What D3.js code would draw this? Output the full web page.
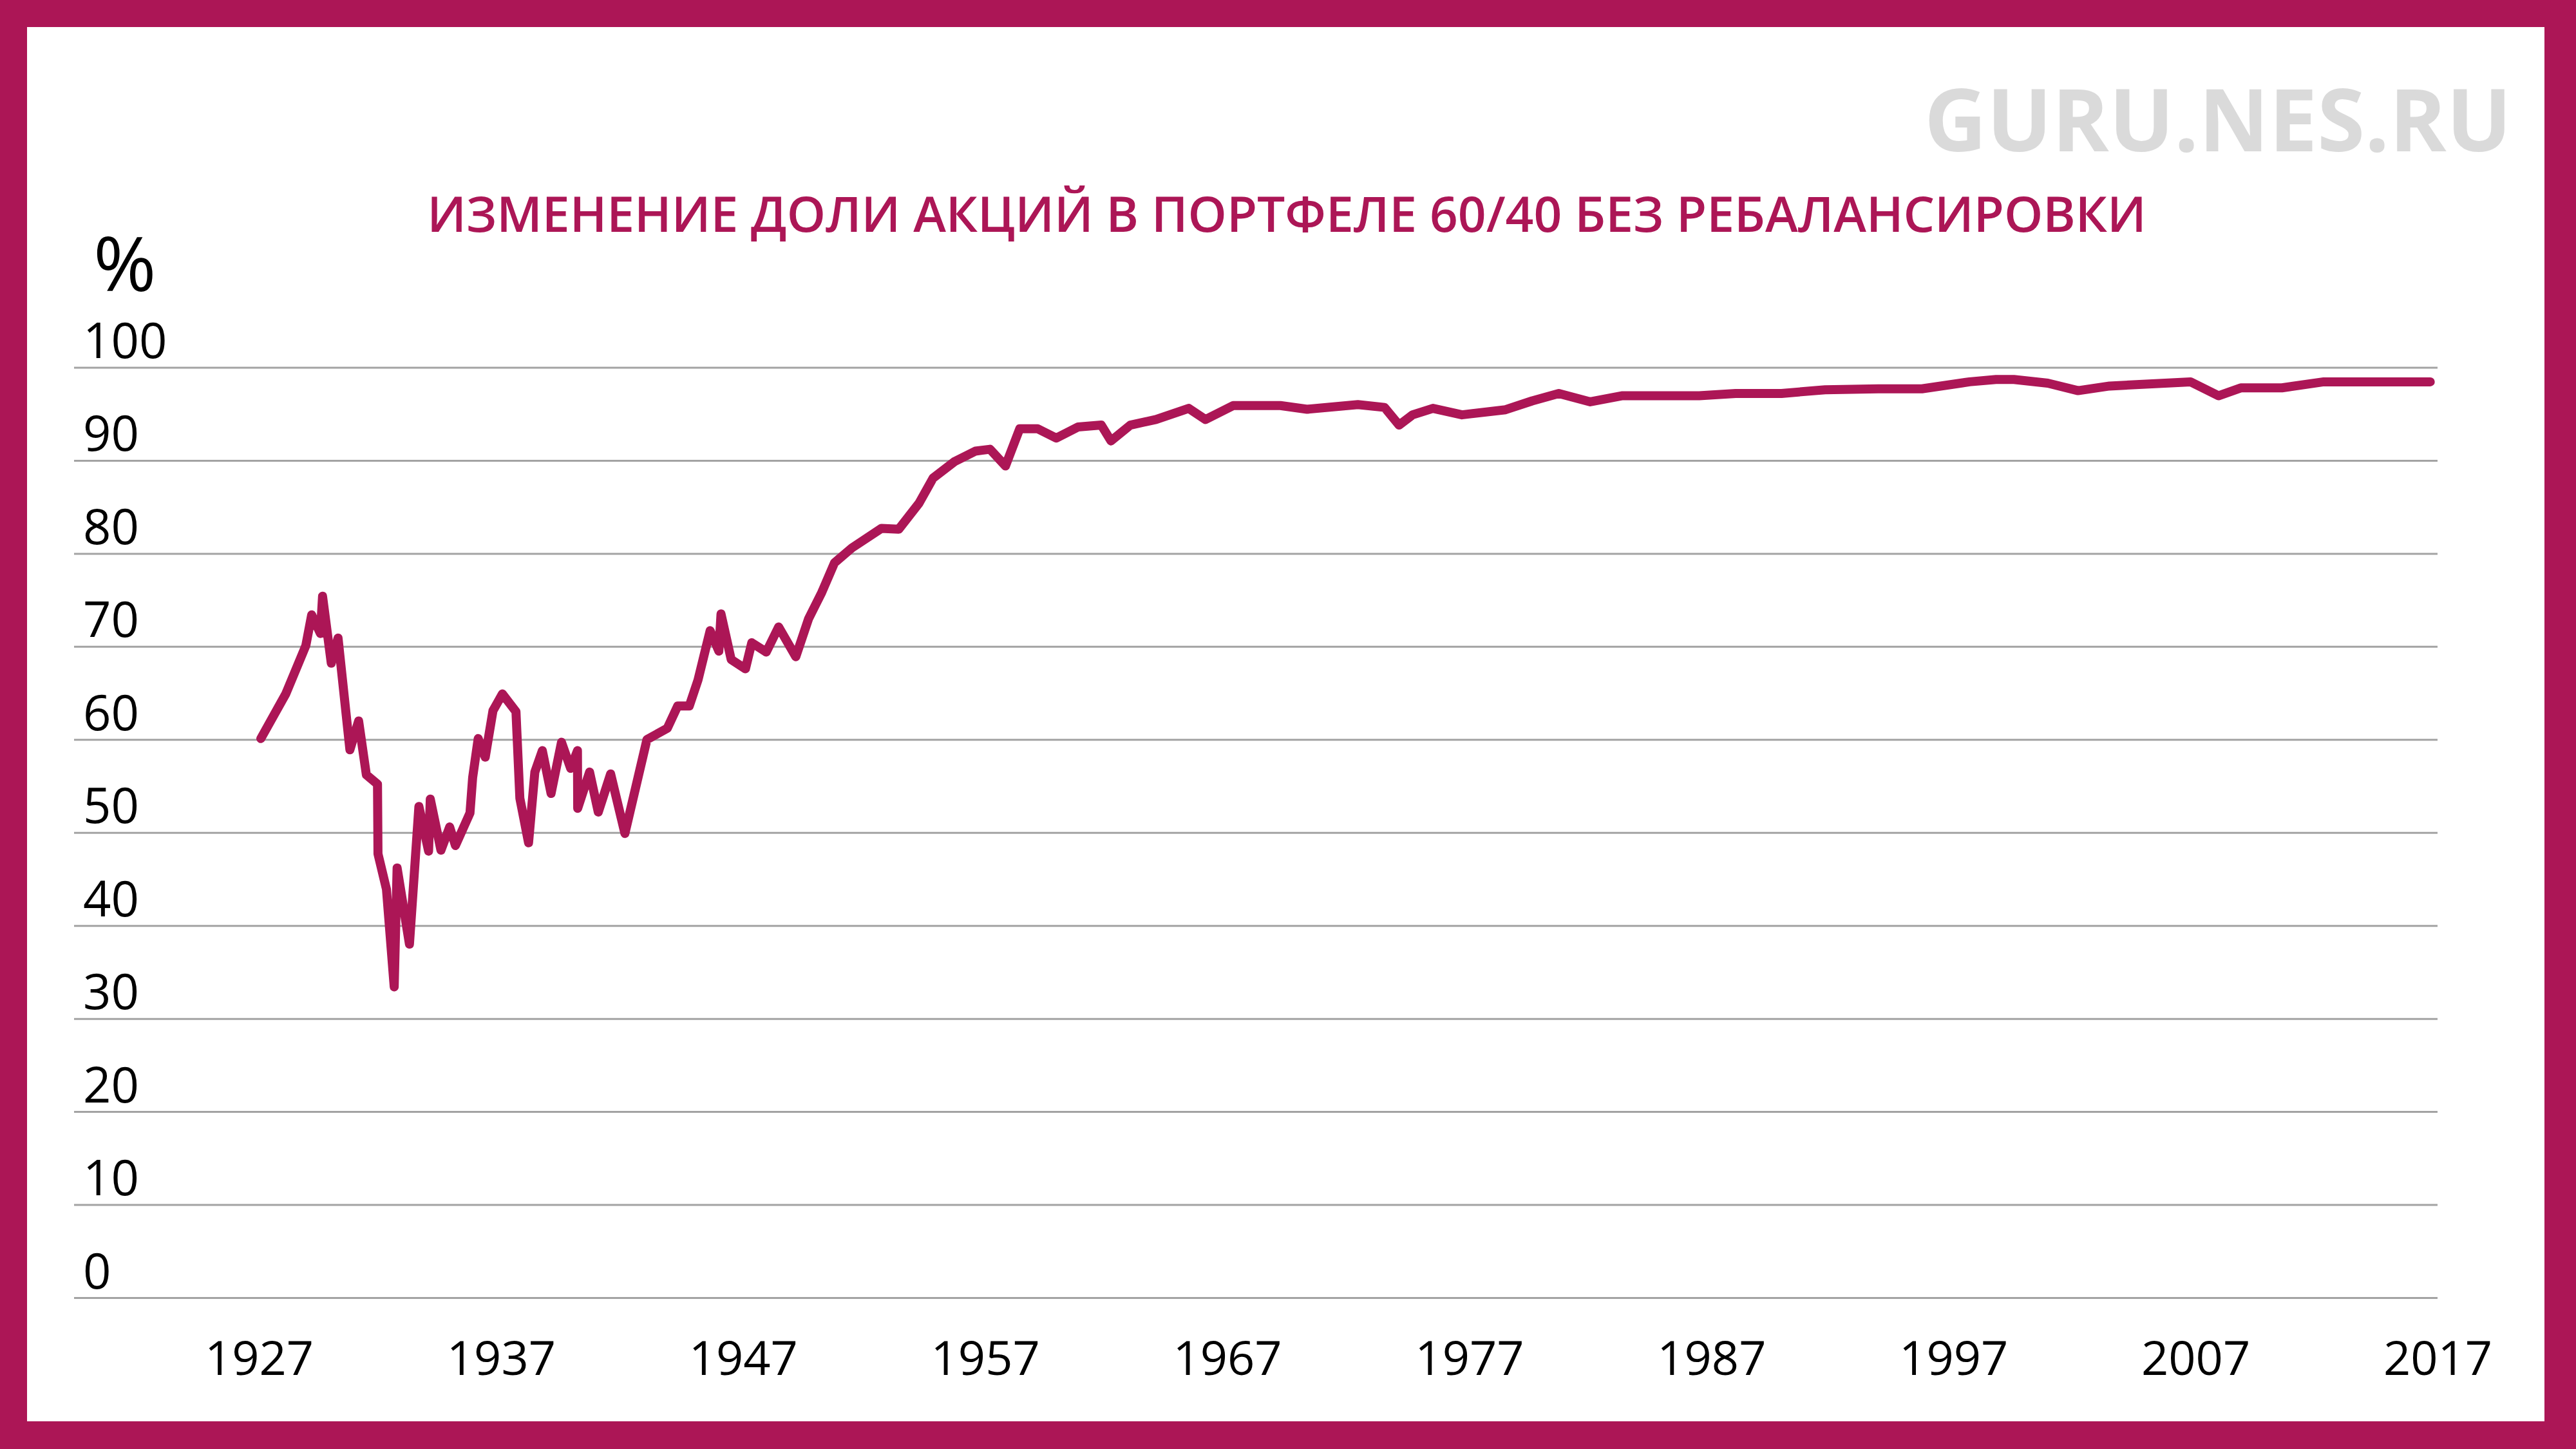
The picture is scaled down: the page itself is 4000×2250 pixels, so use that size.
<!DOCTYPE html>
<html>
<head>
<meta charset="utf-8">
<script src="https://cdn.jsdelivr.net/npm/d3@7"></script>
<style>
  html, body { margin: 0; padding: 0; background: #ffffff; }
  svg { display: block; }
</style>
</head>
<body>
<div id="chart"></div>
<script>
// ---- Data ----
const titleText = "ИЗМЕНЕНИЕ ДОЛИ АКЦИЙ В ПОРТФЕЛЕ 60/40 БЕЗ РЕБАЛАНСИРОВКИ";
const watermarkText = "GURU.NES.RU";
const unitLabel = "%";
const xTickYears = [1927, 1937, 1947, 1957, 1967, 1977, 1987, 1997, 2007, 2017];
const yTickValues = [0, 10, 20, 30, 40, 50, 60, 70, 80, 90, 100];

const dates = [
  1927.08, 1928.11, 1928.94, 1929.18, 1929.54, 1929.63, 1929.99, 1930.27, 1930.76, 1931.12,
  1931.44, 1931.90, 1931.92, 1932.27, 1932.59, 1932.71, 1933.22, 1933.61, 1934.01, 1934.08,
  1934.52, 1934.88, 1935.12, 1935.72, 1935.83, 1936.06, 1936.35, 1936.67, 1937.06, 1937.62,
  1937.78, 1938.14, 1938.40, 1938.71, 1939.07, 1939.50, 1939.88, 1940.16, 1940.17, 1940.66,
  1941.02, 1941.53, 1942.12, 1943.03, 1943.87, 1944.30, 1944.78, 1945.14, 1945.64, 1946.00,
  1946.09, 1946.51, 1947.10, 1947.36, 1947.96, 1948.47, 1949.18, 1949.71, 1950.25, 1950.78,
  1951.50, 1952.72, 1953.43, 1954.27, 1954.85, 1955.75, 1956.60, 1957.20, 1957.84, 1958.43,
  1959.17, 1959.94, 1960.84, 1961.80, 1962.20, 1963.00, 1964.06, 1965.41, 1966.10, 1967.25,
  1969.20, 1970.30, 1972.40, 1973.50, 1974.10, 1974.66, 1975.50, 1976.70, 1978.50, 1979.60,
  1980.70, 1982.00, 1983.30, 1986.50, 1988.00, 1989.90, 1991.70, 1993.90, 1995.70, 1997.67,
  1998.76, 1999.50, 2000.90, 2002.15, 2003.45, 2006.80, 2007.95, 2008.87, 2010.57, 2012.30,
  2016.70
];
const shares = [
  60.1, 64.9, 70.1, 73.4, 71.4, 75.4, 68.2, 70.9, 58.9, 62.0,
  56.2, 55.2, 47.7, 43.9, 33.4, 46.2, 38.0, 52.8, 48.0, 53.6,
  48.1, 50.6, 48.6, 52.1, 55.9, 60.1, 58.1, 63.1, 64.9, 63.0,
  53.7, 48.9, 56.5, 58.8, 54.2, 59.7, 56.9, 58.8, 52.6, 56.5,
  52.2, 56.3, 49.9, 60.0, 61.2, 63.6, 63.6, 66.4, 71.7, 69.5,
  73.5, 68.6, 67.6, 70.4, 69.4, 72.1, 68.9, 73.0, 75.8, 79.0,
  80.6, 82.7, 82.6, 85.4, 88.1, 89.9, 91.0, 91.2, 89.4, 93.4,
  93.4, 92.4, 93.6, 93.8, 92.1, 93.8, 94.4, 95.6, 94.4, 95.9,
  95.9, 95.5, 96.0, 95.7, 93.8, 94.9, 95.6, 94.9, 95.45, 96.4,
  97.2, 96.3, 96.95, 96.95, 97.2, 97.2, 97.6, 97.7, 97.7, 98.45,
  98.7, 98.7, 98.3, 97.5, 98.0, 98.45, 96.95, 97.8, 97.8, 98.45,
  98.45
];

// ---- Layout ----
const W = 4000, H = 2250;
const brand = "#ac1656";
const gridLeft = 115, gridRight = 3785;

const svg = d3.select("#chart").append("svg")
  .attr("width", W).attr("height", H)
  .attr("viewBox", `0 0 ${W} ${H}`);

// Frame
svg.append("rect").attr("x", 0).attr("y", 0).attr("width", W).attr("height", H).attr("fill", brand);
svg.append("rect").attr("x", 42).attr("y", 42).attr("width", 3909).attr("height", 2165).attr("fill", "#ffffff");

// Scales
const x = d3.scaleLinear().domain([1927, 2017]).range([402, 3785]);
const y = d3.scaleLinear().domain([0, 100]).range([2015, 570.5]);

// Watermark
svg.append("text")
  .attr("x", 3900).attr("y", 235)
  .attr("text-anchor", "end")
  .attr("font-family", "'Open Sans', sans-serif")
  .attr("font-weight", 700)
  .attr("font-size", 134)
  .attr("fill", "#dadada")
  .text(watermarkText);

// Title
svg.append("text")
  .attr("x", 1998).attr("y", 360)
  .attr("text-anchor", "middle")
  .attr("font-family", "'Open Sans', sans-serif")
  .attr("font-weight", 600)
  .attr("font-size", 76.7)
  .attr("fill", brand)
  .text(titleText);

// Unit label
svg.append("text")
  .attr("x", 145).attr("y", 452)
  .attr("font-family", "'Open Sans', sans-serif")
  .attr("font-size", 118)
  .attr("fill", "#000")
  .text(unitLabel);

// Y axis (gridlines + labels)
const yAxis = d3.axisRight(y)
  .tickValues(yTickValues)
  .tickSize(gridRight - gridLeft)
  .tickFormat(d3.format("d"));

const yg = svg.append("g")
  .attr("transform", `translate(${gridLeft},0)`)
  .call(yAxis);
yg.select(".domain").remove();
yg.selectAll(".tick line")
  .attr("stroke", "#a3a3a3")
  .attr("stroke-width", 3);
yg.selectAll(".tick text")
  .attr("x", 14)
  .attr("dy", 0)
  .attr("y", -15)
  .attr("text-anchor", "start")
  .attr("font-family", "'Open Sans', sans-serif")
  .attr("font-size", 76)
  .attr("fill", "#000");

// X axis (labels only)
const xAxis = d3.axisBottom(x)
  .tickValues(xTickYears)
  .tickSize(0)
  .tickFormat(d3.format("d"));
const xg = svg.append("g")
  .attr("transform", `translate(0,2015)`)
  .call(xAxis);
xg.select(".domain").remove();
xg.selectAll(".tick text")
  .attr("y", 120)
  .attr("dy", 0)
  .attr("font-family", "'Open Sans', sans-serif")
  .attr("font-size", 74)
  .attr("fill", "#000");

// Line
const series = dates.map((d, i) => ({ t: d, v: shares[i] }));
const line = d3.line().x(d => x(d.t)).y(d => y(d.v));
svg.append("path")
  .datum(series)
  .attr("d", line)
  .attr("fill", "none")
  .attr("stroke", brand)
  .attr("stroke-width", 14)
  .attr("stroke-linejoin", "round")
  .attr("stroke-linecap", "round");
</script>
</body>
</html>
